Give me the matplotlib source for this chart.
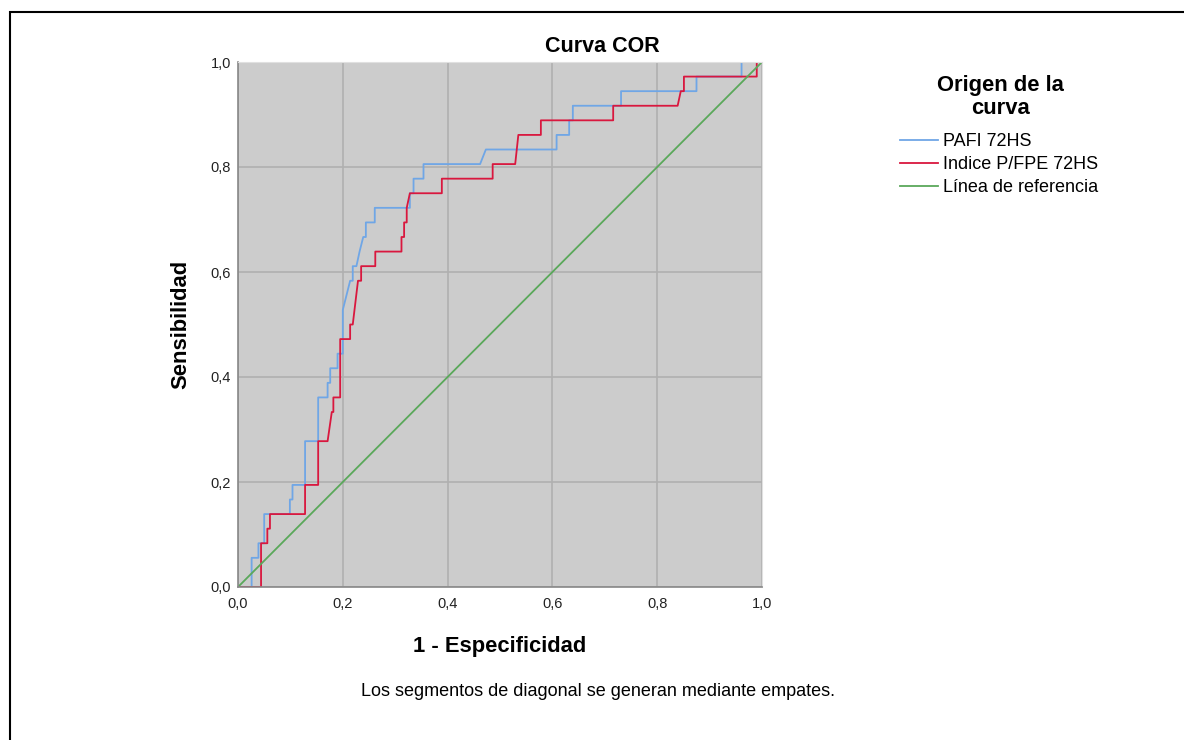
import matplotlib
matplotlib.use("Agg")
import matplotlib.pyplot as plt
from matplotlib.patches import Rectangle

plt.rcParams['font.family'] = ['Liberation Sans', 'DejaVu Sans']

n_pos = 36.0

# PAFI 72HS: (1 - especificidad, positivos detectados)
pafi_x = [0, 0.026, 0.026, 0.039, 0.039, 0.050, 0.050, 0.099, 0.099, 0.104, 0.104,
          0.128, 0.128, 0.153, 0.153, 0.171, 0.171, 0.176, 0.176, 0.190, 0.190,
          0.200, 0.200, 0.214, 0.219, 0.219, 0.226, 0.232, 0.239, 0.244, 0.244,
          0.261, 0.261, 0.328, 0.328, 0.335, 0.335, 0.354, 0.354, 0.462, 0.473,
          0.608, 0.608, 0.632, 0.632, 0.639, 0.639, 0.731, 0.731, 0.875, 0.875,
          0.961, 0.961, 1.0]
pafi_n = [0, 0, 2, 2, 3, 3, 5, 5, 6, 6, 7,
          7, 10, 10, 13, 13, 14, 14, 15, 15, 16,
          16, 19, 21, 21, 22, 22, 23, 24, 24, 25,
          25, 26, 26, 27, 27, 28, 28, 29, 29, 30,
          30, 31, 31, 32, 32, 33, 33, 34, 34, 35,
          35, 36, 36]

# Indice P/FPE 72HS
pfpe_x = [0, 0.044, 0.044, 0.056, 0.056, 0.061, 0.061, 0.128, 0.128, 0.153, 0.153,
          0.171, 0.179, 0.182, 0.182, 0.195, 0.195, 0.214, 0.214, 0.219, 0.229,
          0.235, 0.235, 0.262, 0.262, 0.312, 0.312, 0.317, 0.317, 0.322, 0.322,
          0.328, 0.389, 0.389, 0.486, 0.486, 0.529, 0.535, 0.578, 0.578, 0.716,
          0.716, 0.839, 0.845, 0.851, 0.851, 0.990, 0.990, 1.0]
pfpe_n = [0, 0, 3, 3, 4, 4, 5, 5, 7, 7, 10,
          10, 12, 12, 13, 13, 17, 17, 18, 18, 21,
          21, 22, 22, 23, 23, 24, 24, 25, 25, 26,
          27, 27, 28, 28, 29, 29, 31, 31, 32, 32,
          33, 33, 34, 34, 35, 35, 36, 36]

ref_x = [0, 1]
ref_y = [0, 1]

ticks = [0, 0.2, 0.4, 0.6, 0.8, 1.0]
tick_labels = ['0,0', '0,2', '0,4', '0,6', '0,8', '1,0']

fig = plt.figure(figsize=(11.84, 7.40), dpi=100)

# marco exterior
fig.patches.append(Rectangle((10 / 1184, -0.05), 1.2, (740 - 12) / 740 + 0.05,
                             transform=fig.transFigure, fill=False,
                             edgecolor='black', linewidth=1.5))

ax = fig.add_axes([238 / 1184, 153 / 740, 524 / 1184, 525 / 740])
ax.set_facecolor('#cccccc')

l1, = ax.plot(pafi_x, [v / n_pos for v in pafi_n], color='#6fa6e6', linewidth=1.3, label='PAFI 72HS')
l2, = ax.plot(pfpe_x, [v / n_pos for v in pfpe_n], color='#d9173e', linewidth=1.3, label='Indice P/FPE 72HS')
l3, = ax.plot(ref_x, ref_y, color='#5aa85a', linewidth=1.3, label='Línea de referencia')

ax.set_xlim(0, 1)
ax.set_ylim(0, 1)
ax.set_xticks(ticks)
ax.set_yticks(ticks)
ax.set_xticklabels(tick_labels)
ax.set_yticklabels(tick_labels)
ax.tick_params(length=0, labelsize=10.5, colors='#222222')
ax.tick_params(axis='x', pad=7)
ax.tick_params(axis='y', pad=5)
ax.grid(True, color='#b0b0b0', linewidth=1.2)
ax.set_axisbelow(True)
for s in ['top', 'right']:
    ax.spines[s].set_color('#e0e0e0')
for s in ['left', 'bottom']:
    ax.spines[s].set_color('#888888')
    ax.spines[s].set_linewidth(1.2)

ax.set_xlabel('1 - Especificidad', fontsize=15.8, fontweight='bold', labelpad=18)
ax.set_ylabel('Sensibilidad', fontsize=15.8, fontweight='bold', labelpad=14)

fig.text(602 / 1184, 1 - 46 / 740, 'Curva COR', ha='center', va='center',
         fontsize=15.5, fontweight='bold')

fig.text(598 / 1184, 1 - 691 / 740, 'Los segmentos de diagonal se generan mediante empates.',
         ha='center', va='center', fontsize=13)

fig.text(1000 / 1184, 1 - 97 / 740, 'Origen de la\ncurva', ha='center', va='center',
         fontsize=15.8, fontweight='bold', linespacing=1.1)

leg = fig.legend(handles=[l1, l2, l3], loc='upper left', bbox_to_anchor=(900 / 1184, 1 - 133 / 740),
                 frameon=False, fontsize=13, borderaxespad=0, borderpad=0,
                 handlelength=2.1, handletextpad=0.3, labelspacing=0.33)

fig.savefig('out.png', dpi=100)
